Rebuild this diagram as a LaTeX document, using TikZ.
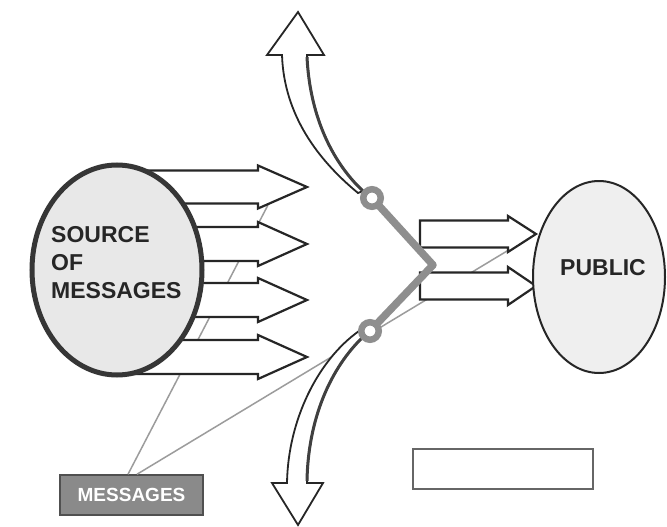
\documentclass[tikz,border=0pt]{standalone}
\usepackage{fontspec}
\setmainfont{Liberation Sans}
\usetikzlibrary{shapes.geometric}
\definecolor{rimdark}{HTML}{363636}
\definecolor{gatekeep}{HTML}{8E8E8E}
\definecolor{leader}{HTML}{9C9C9C}
\definecolor{msgfill}{HTML}{8A8A8A}
\definecolor{msgrim}{HTML}{505050}
\definecolor{blobfill}{HTML}{E8E8E8}

% block arrow: #1 left x, #2 head base x, #3 tip x, #4 centre y, #5 shaft half width, #6 head half width
\newcommand\blkarrow[6]{%
  \draw[blockarrow] (#1,#4-#5) -- (#2,#4-#5) -- (#2,#4-#6) -- (#3,#4)
    -- (#2,#4+#6) -- (#2,#4+#5) -- (#1,#4+#5) -- cycle;}

\begin{document}
\begin{tikzpicture}[x=1pt,y=-1pt,
  blockarrow/.style={draw=black!85, line width=2.2pt, fill=white, line join=miter},
  curvearrow/.style={draw=black!85, line width=1.8pt, fill=white, line join=miter},
  shadowedge/.style={draw=black!75, line width=3pt},
  leaderline/.style={draw=leader, line width=1.5pt},
  gkline/.style={draw=gatekeep, line width=7.5pt, line join=round, line cap=round},
  gkring/.style={circle, draw=gatekeep, line width=6.5pt, fill=white, minimum size=17.5pt, inner sep=0pt},
  caption/.style={font=\bfseries\fontsize{23}{28}\selectfont, text=black!85}]

% page
\fill[white] (0,0) rectangle (667,527);
\useasboundingbox (0,0) rectangle (667,527);

% label boxes and their leader lines
\node[draw=msgrim, line width=1.5pt, fill=msgfill, minimum width=143pt, minimum height=40pt,
      inner sep=0pt, text=white, font=\bfseries\fontsize{19}{22}\selectfont] (msg) at (131.5,495) {MESSAGES};
\node[draw=black!60, line width=1.5pt, fill=white, minimum width=180pt, minimum height=40pt] (blank) at (503,469) {};
\coordinate (leadA) at (268,205);
\coordinate (leadB) at (512,248);
\draw[leaderline] ([xshift=-3.5pt]msg.north) -- (leadA);
\draw[leaderline] ([xshift=5.5pt]msg.north) -- (leadB);

% messages leaving the source
\blkarrow{120}{258}{307}{187}{16.5}{21.5}
\blkarrow{120}{258}{307}{244}{17}{22}
\blkarrow{120}{258}{307}{300}{17}{22}
\blkarrow{120}{258}{307}{357}{17}{22}

% source of messages
\node[ellipse, draw=rimdark, line width=5pt, fill=blobfill, minimum width=170pt, minimum height=210pt] (source) at (117,270) {};
\node[caption, align=left, anchor=west, inner sep=0pt] (sourcetext) at (51,263) {SOURCE\\OF\\MESSAGES};

% messages passed on to the public
\blkarrow{420}{508}{536}{234}{13.5}{18}
\blkarrow{420}{508}{536}{286}{13.5}{19}

% rejected messages, upwards
\draw[curvearrow] (358,193) .. controls (318,160) and (284,115) .. (282,55) -- (267,55)
  -- (298,12) -- (324,55) -- (307,55) .. controls (310,120) and (335,165) .. (363,191) -- cycle;
\draw[shadowedge] (307,57) .. controls (310,120) and (335,165) .. (363,191);

% rejected messages, downwards
\draw[curvearrow] (359,331) .. controls (318,360) and (288,420) .. (287,483) -- (272,483)
  -- (298,525) -- (323,483) -- (307,483) .. controls (308,420) and (330,368) .. (364,336) -- cycle;
\draw[shadowedge] (307,481) .. controls (308,420) and (330,368) .. (364,336);

% gatekeeper
\coordinate (gtopc) at (372,198);
\coordinate (gvert) at (433,265);
\coordinate (gbotc) at (370,331);
\draw[gkline] (gtopc) -- (gvert) -- (gbotc);
\node[gkring] (gtop) at (gtopc) {};
\node[gkring] (gbot) at (gbotc) {};

% public
\node[ellipse, draw=black!85, line width=2pt, fill=blobfill!70!white, minimum width=132pt, minimum height=192pt] (public) at (599,277) {};
\node[caption, inner sep=0pt] (publictext) at (603,268) {PUBLIC};

\end{tikzpicture}
\end{document}
